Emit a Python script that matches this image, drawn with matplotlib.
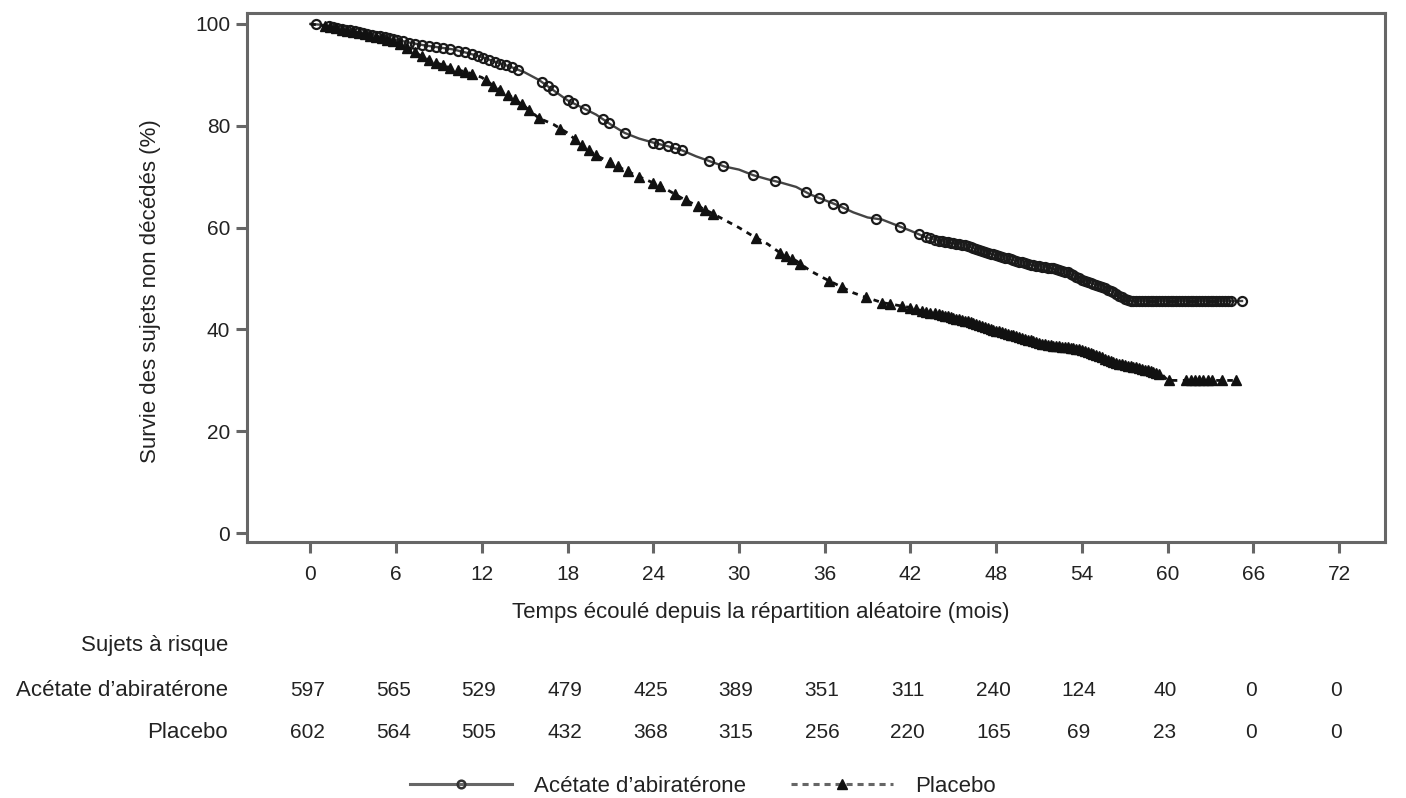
import numpy as np
import matplotlib
matplotlib.use("Agg")
from matplotlib import pyplot as plt
from matplotlib.lines import Line2D
import matplotlib.transforms as mtrans

plt.rcParams['font.family'] = ['Liberation Sans', 'DejaVu Sans']

# ---- data (months, % survival) ----
abi_t = [0, 1, 2, 3, 4, 5, 6, 7, 8, 9, 10, 11, 12, 13, 14, 15, 16, 17, 18, 19,
         20, 21, 22, 23, 24, 25, 26, 27, 28, 29, 30, 31, 32, 33, 34, 35, 36, 37,
         38, 39, 40, 41, 42, 43, 44, 45, 46, 47, 48, 49, 50, 51, 52, 53, 54, 55,
         56, 57, 57.5, 65.2]
abi_s = [100, 99.8, 99.2, 98.6, 98.0, 97.5, 96.9, 96.3, 95.8, 95.4, 95.0, 94.3,
         93.5, 92.5, 91.6, 90.5, 89.0, 87.0, 85.0, 83.6, 82.2, 80.3, 78.6, 77.5,
         76.7, 76.0, 75.2, 74.0, 73.0, 72.0, 71.4, 70.3, 69.5, 68.8, 68.0, 66.5,
         65.4, 64.3, 63.0, 62.0, 61.6, 60.5, 59.4, 58.2, 57.4, 57.0, 56.4, 55.4,
         54.6, 53.8, 53.0, 52.4, 52.0, 51.2, 49.8, 48.8, 47.6, 46.0, 45.6, 45.6]

pla_t = [0, 1, 2, 3, 4, 5, 6, 7, 8, 9, 10, 11, 12, 13, 14, 15, 16, 17, 18, 19,
         20, 21, 22, 23, 24, 25, 26, 27, 28, 29, 30, 31, 32, 33, 34, 35, 36, 37,
         38, 39, 40, 41, 42, 43, 44, 45, 46, 47, 48, 49, 50, 51, 52, 53, 54, 55,
         56, 57, 58, 59, 59.6, 60, 64.8]
pla_s = [100, 99.6, 99.0, 98.5, 97.8, 97.2, 96.5, 95.0, 93.3, 92.2, 91.2, 90.5,
         89.5, 87.5, 85.8, 83.8, 81.5, 80.3, 78.6, 76.2, 74.2, 72.8, 71.3, 70.0,
         68.8, 67.4, 65.8, 64.4, 63.0, 61.5, 60.0, 58.3, 56.8, 54.8, 53.5, 51.5,
         50.0, 48.6, 47.2, 46.2, 45.3, 44.8, 44.3, 43.5, 43.0, 42.3, 41.6, 40.6,
         39.8, 39.0, 38.2, 37.3, 36.8, 36.5, 36.0, 35.0, 33.8, 33.0, 32.5, 31.6,
         31.2, 30.0, 30.0]

# censoring times (months)
abi_cens = [0.4, 1.3, 1.6, 1.9, 2.2, 2.5, 2.8, 3.1, 3.4, 3.7, 4.0, 4.3, 4.6,
            4.9, 5.2, 5.5, 5.8, 6.1, 6.5, 6.9, 7.3, 7.8, 8.3, 8.8, 9.3, 9.8,
            10.3, 10.8, 11.3, 11.7, 12.1, 12.5, 12.9, 13.3, 13.7, 14.1, 14.5,
            16.2, 16.6, 17.0, 18.0, 18.4, 19.2, 20.5, 20.9, 22.0, 24.0, 24.4,
            25.0, 25.5, 26.0, 27.9, 28.9, 31.0, 32.5, 34.7, 35.6, 36.6, 37.3,
            39.6, 41.3, 42.6, 43.1, 43.4, 43.7, 44.0, 44.2, 44.4, 44.6, 44.8,
            45.0, 45.2, 45.4, 45.6, 45.8, 46.0, 46.2, 46.4, 46.6, 46.8, 47.0,
            47.2, 47.4, 47.6, 47.8, 48.0, 48.2, 48.4, 48.6, 48.8, 49.0, 49.2,
            49.4, 49.6, 49.8, 50.0, 50.2, 50.4, 50.6, 50.8, 51.0, 51.2, 51.4,
            51.6, 51.8, 52.0, 52.2, 52.4, 52.6, 52.8, 53.0, 53.2, 53.4, 53.6,
            53.8, 54.0, 54.2, 54.4, 54.6, 54.8, 55.0, 55.2, 55.4, 55.6, 55.8,
            56.0, 56.2, 56.4, 56.6, 56.8, 57.0, 57.2, 57.4, 57.6, 57.8, 58.0,
            58.2, 58.4, 58.6, 58.8, 59.0, 59.2, 59.4, 59.6, 59.8, 60.0, 60.2,
            60.4, 60.6, 60.8, 61.0, 61.2, 61.4, 61.6, 61.8, 62.0, 62.2, 62.4,
            62.6, 62.8, 63.0, 63.2, 63.4, 63.6, 63.8, 64.0, 64.2, 64.4, 65.2]
pla_cens = [1.0, 1.4, 1.8, 2.2, 2.6, 3.0, 3.4, 3.8, 4.2, 4.6, 5.0, 5.4, 5.8,
            6.3, 6.8, 7.3, 7.8, 8.3, 8.8, 9.3, 9.8, 10.3, 10.8, 11.3, 12.3,
            12.8, 13.3, 13.8, 14.3, 14.8, 15.3, 16.0, 17.5, 18.5, 19.0, 19.5,
            20.0, 21.0, 21.5, 22.2, 23.0, 24.0, 24.5, 25.5, 26.3, 27.1, 27.6,
            28.2, 31.2, 32.9, 33.3, 33.7, 34.3, 36.3, 37.2, 38.9, 40.0, 40.6,
            41.4, 42.0, 42.4, 42.8, 43.1, 43.4, 43.7, 44.0, 44.2, 44.4, 44.6,
            44.8, 45.0, 45.2, 45.4, 45.6, 45.8, 46.0, 46.2, 46.4, 46.6, 46.8,
            47.0, 47.2, 47.4, 47.6, 47.8, 48.0, 48.2, 48.4, 48.6, 48.8, 49.0,
            49.2, 49.4, 49.6, 49.8, 50.0, 50.2, 50.4, 50.6, 50.8, 51.0, 51.2,
            51.4, 51.6, 51.8, 52.0, 52.2, 52.4, 52.6, 52.8, 53.0, 53.2, 53.4,
            53.6, 53.8, 54.0, 54.2, 54.4, 54.6, 54.8, 55.0, 55.2, 55.4, 55.6,
            55.8, 56.0, 56.2, 56.4, 56.6, 56.8, 57.0, 57.2, 57.4, 57.6, 57.8,
            58.0, 58.2, 58.4, 58.6, 58.8, 59.0, 59.2, 59.4, 60.1, 61.3, 61.6,
            61.9, 62.2, 62.5, 62.8, 63.1, 63.8, 64.8]

months = [0, 6, 12, 18, 24, 30, 36, 42, 48, 54, 60, 66, 72]
risk_abi = [597, 565, 529, 479, 425, 389, 351, 311, 240, 124, 40, 0, 0]
risk_pla = [602, 564, 505, 432, 368, 315, 256, 220, 165, 69, 23, 0, 0]

TXT = '#222222'
AXC = '#666666'
FS = 15      # numbers
FT = 16      # words

fig = plt.figure(figsize=(14.06, 7.98), dpi=100)
ax = fig.add_axes([0.176, 0.321, 0.809, 0.663])

# abiraterone: solid line, hollow circles for censored subjects
ax.plot(abi_t, abi_s, color='#444444', lw=1.7)
ax.plot(abi_cens, np.interp(abi_cens, abi_t, abi_s), ls='none', marker='o',
        ms=6.5, mfc='none', mec='#1a1a1a', mew=1.6)

# placebo: dashed line, filled triangles
ax.plot(pla_t, pla_s, color='#111111', lw=2.0, ls=(0, (2, 2)))
ax.plot(pla_cens, np.interp(pla_cens, pla_t, pla_s), ls='none', marker='^',
        ms=6.5, color='#111111')

ax.set_xlim(-4.4, 75.2)
ax.set_ylim(-1.7, 102.2)
ax.set_xticks(months)
ax.set_yticks([0, 20, 40, 60, 80, 100])
for sp in ax.spines.values():
    sp.set_color(AXC)
    sp.set_linewidth(2.2)
ax.tick_params(direction='out', length=8, width=2.2, color=AXC,
               labelsize=FS, labelcolor=TXT)
ax.tick_params(axis='x', pad=9)
ax.tick_params(axis='y', pad=4.5)

ax.set_xlabel("Temps écoulé depuis la répartition aléatoire (mois)",
              fontsize=FT, color=TXT, va='center')
ax.xaxis.set_label_coords(0.451, (542 - 613) / 529)
ax.set_ylabel("Survie des sujets non décédés (%)", fontsize=FT, color=TXT,
              va='center')
ax.yaxis.set_label_coords(-0.085, 0.474)

# ---- number at risk table ----
lab_x = 228 / 1406
row_abi = 1 - 691 / 798
row_pla = 1 - 732 / 798
fig.text(lab_x, 1 - 646 / 798, "Sujets à risque", ha='right', va='center',
         fontsize=FT, color=TXT)
fig.text(lab_x, row_abi, "Acétate d\u2019abiratérone", ha='right',
         va='center', fontsize=FT, color=TXT)
fig.text(lab_x, row_pla, "Placebo", ha='right', va='center',
         fontsize=FT, color=TXT)
blend = mtrans.blended_transform_factory(ax.transData, fig.transFigure)
for m, a, p in zip(months, risk_abi, risk_pla):
    ax.text(m - 0.2, row_abi, str(a), transform=blend, ha='center',
            va='center', fontsize=FS, color=TXT, clip_on=False)
    ax.text(m - 0.2, row_pla, str(p), transform=blend, ha='center',
            va='center', fontsize=FS, color=TXT, clip_on=False)

# ---- legend ----
h1 = Line2D([], [], color='#666666', lw=2.2, marker='o', ms=5.5, mfc='none',
            mec='#333333', mew=1.8)
h2 = Line2D([], [], color='#666666', lw=2.2, ls=(0, (2, 1.6)), marker='^',
            ms=6.5, mfc='#111111', mec='#111111')
fig.legend([h1, h2], ["Acétate d\u2019abiratérone", "Placebo"], ncol=2,
           loc='center', bbox_to_anchor=(0.5, 1 - 786 / 798), frameon=False,
           fontsize=FT, handlelength=4.6, numpoints=1, columnspacing=2.0,
           handletextpad=1.0, labelcolor=TXT)

fig.savefig("out.png", dpi=100)
